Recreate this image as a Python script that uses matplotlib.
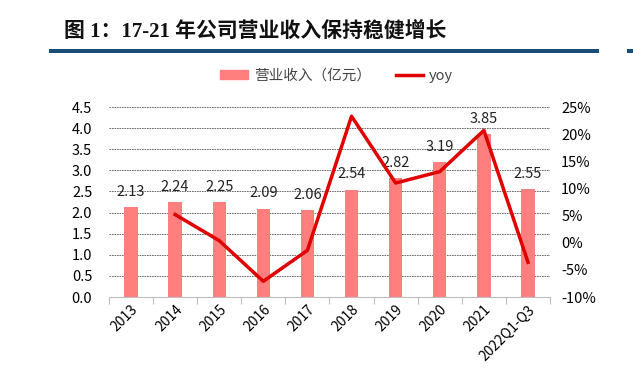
import matplotlib.pyplot as plt
import matplotlib.lines as mlines
import numpy as np

plt.rcParams['font.family'] = ['Noto Sans CJK SC', 'DejaVu Sans']

# 数据
years = ['2013', '2014', '2015', '2016', '2017', '2018', '2019', '2020', '2021', '2022Q1-Q3']
revenue = [2.13, 2.24, 2.25, 2.09, 2.06, 2.54, 2.82, 3.19, 3.85, 2.55]
yoy = [None, 5.2, 0.4, -7.1, -1.4, 23.3, 11.0, 13.1, 20.7, -3.6]

bar_color = '#FF7F7F'
line_color = '#E00000'

fig = plt.figure(figsize=(6.33, 3.69), dpi=100)
ax = fig.add_axes([0.172, 0.195, 0.697, 0.515])
x = np.arange(len(years))

ax.bar(x, revenue, width=0.3, color=bar_color, zorder=3)
for xi, v in zip(x, revenue):
    ax.annotate('%.2f' % v, (xi, v), xytext=(0, 6), textcoords='offset points',
                ha='center', va='bottom', fontsize=10.5, color='#222222')

ax.set_ylim(0, 4.5)
ax.set_yticks(np.arange(0, 4.51, 0.5))
ax.set_yticklabels(['%.1f' % t for t in np.arange(0, 4.51, 0.5)])
ax.set_xlim(-0.5, len(years) - 0.5)
ax.set_xticks(x)
ax.set_xticklabels(years, rotation=45, ha='right', rotation_mode='anchor')
ax.tick_params(axis='x', length=0, labelsize=10, pad=4)
ax.tick_params(axis='y', length=0, labelsize=10.5, pad=12)
ax.set_xticks(np.arange(-0.5, len(years), 1), minor=True)
ax.tick_params(axis='x', which='minor', length=5, color='#BFBFBF', width=0.8)
ax.grid(axis='y', linestyle=(0, (2, 1)), color='#555555', linewidth=0.6, zorder=0)
for s in ['top', 'right', 'left']:
    ax.spines[s].set_visible(False)
ax.spines['bottom'].set_color('#BFBFBF')
ax.spines['bottom'].set_zorder(4)

ax2 = ax.twinx()
yx = [xi for xi, v in zip(x, yoy) if v is not None]
yv = [v for v in yoy if v is not None]
ax2.plot(yx, yv, color=line_color, linewidth=2.5, zorder=5)
ax2.set_ylim(-10, 25)
ax2.set_yticks(np.arange(-10, 26, 5))
ax2.set_yticklabels(['%d%%' % t for t in np.arange(-10, 26, 5)])
ax2.tick_params(axis='y', length=0, labelsize=10.5, pad=8)
for s in ['top', 'right', 'left', 'bottom']:
    ax2.spines[s].set_visible(False)

# 图例
h1 = plt.Rectangle((0, 0), 1, 1, color=bar_color)
h2 = mlines.Line2D([], [], color=line_color, linewidth=2.5)
fig.legend([h1, h2], ['营业收入（亿元）', 'yoy'], loc='center', bbox_to_anchor=(0.532, 0.795),
           ncol=2, frameon=False, fontsize=10.5, handlelength=1.9, handleheight=0.6,
           columnspacing=1.7, handletextpad=0.4, labelcolor='#444444')

# 标题
fig.text(0.101, 0.913, '图 1：17-21 年公司营业收入保持稳健增长', fontsize=15,
         fontweight='bold', va='center', ha='left', color='#111111',
         family=['Liberation Serif', 'Noto Sans CJK SC'])
fig.add_artist(mlines.Line2D([0.081, 0.943], [0.862, 0.862], color='#1A4D75', linewidth=2.9))
fig.add_artist(mlines.Line2D([0.994, 1.0], [0.862, 0.862], color='#1A4D75', linewidth=2.9))

fig.savefig('out.png', dpi=100)
